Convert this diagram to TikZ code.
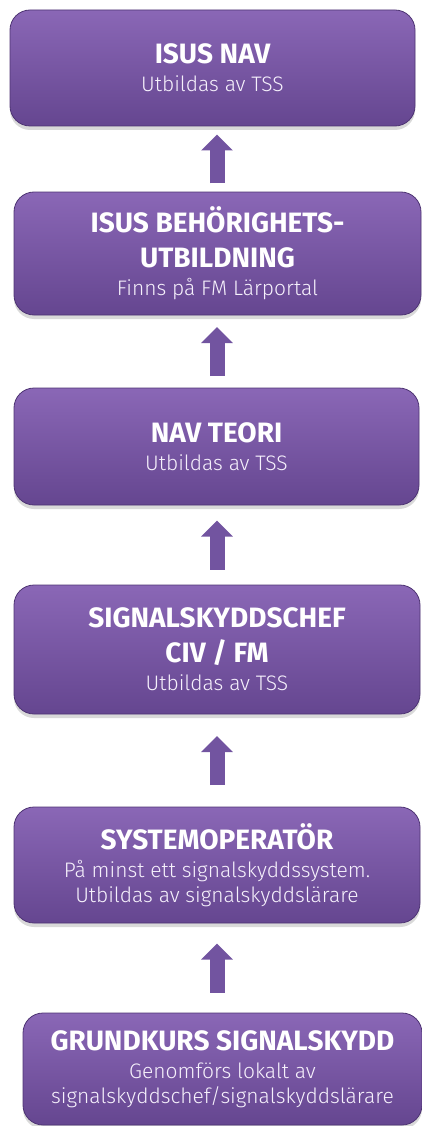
\documentclass[tikz,border=0pt]{standalone}
\usepackage{fontspec}
\setmainfont{Fira Sans}
\newfontfamily\headfont{Fira Sans Bold}
\newfontfamily\lightfont{Fira Sans Light}
\usetikzlibrary{arrows.meta,shadows,calc}

\definecolor{boxtop}{HTML}{8A67B6}
\definecolor{boxbot}{HTML}{654690}
\definecolor{boxline}{HTML}{4E3473}
\definecolor{arrowfill}{HTML}{7254A0}
\definecolor{subtext}{HTML}{F6F1FC}

\tikzset{
    course/.style={rounded corners=20pt, top color=boxtop, bottom color=boxbot,
        draw=boxline, line width=0.8pt, inner sep=0pt, align=center,
        drop shadow={shadow xshift=0pt, shadow yshift=-4pt, opacity=0.3},
        text=subtext, font=\fontsize{21}{25}\lightfont},
    upto/.style={line width=15pt, draw=arrowfill, -{Triangle[width=31pt,length=16pt]}},
}
\newcommand{\ctitle}[1]{{\color{white}\fontsize{28}{28}\headfont #1}}

\begin{document}
\begin{tikzpicture}[x=1pt,y=-1pt]
    \useasboundingbox (0,0) rectangle (422,1126);
    % Draw the course boxes
    \node[course, minimum width=405pt, minimum height=116pt] (nav) at (212.5,68)
        {\ctitle{ISUS NAV}\\[3pt]Utbildas av TSS};
    \node[course, minimum width=407pt, minimum height=123pt] (authtrain) at (217.5,253.5)
        {\ctitle{ISUS BEHÖRIGHETS-}\\[10pt]\ctitle{UTBILDNING}\\[3pt]Finns på FM Lärportal};
    \node[course, minimum width=405pt, minimum height=117pt] (theory) at (216.5,446.5)
        {\ctitle{NAV TEORI}\\[3pt]Utbildas av TSS};
    \node[course, minimum width=406pt, minimum height=129pt] (chief) at (217,649.5)
        {\ctitle{SIGNALSKYDDSCHEF}\\[10pt]\ctitle{CIV / FM}\\[3pt]Utbildas av TSS};
    \node[course, minimum width=406pt, minimum height=116pt] (operator) at (217,865)
        {\ctitle{SYSTEMOPERATÖR}\\[3pt]På minst ett signalskyddssystem.\\Utbildas av signalskyddslärare};
    \node[course, minimum width=399pt, minimum height=112pt] (basic) at (222.5,1069)
        {\ctitle{GRUNDKURS SIGNALSKYDD}\\[3pt]Genomförs lokalt av\\signalskyddschef/signalskyddslärare};
    % Draw the arrows between the boxes
    \coordinate (axis) at (217,0);
    \foreach \lo/\up in {basic/operator, operator/chief, chief/theory, theory/authtrain, authtrain/nav} {
            \coordinate (m) at ($(\lo.north)!0.5!(\up.south)$);
            \draw[upto] ($(m -| axis)+(0,24.5)$) -- ++(0,-49);
        }
\end{tikzpicture}
\end{document}
